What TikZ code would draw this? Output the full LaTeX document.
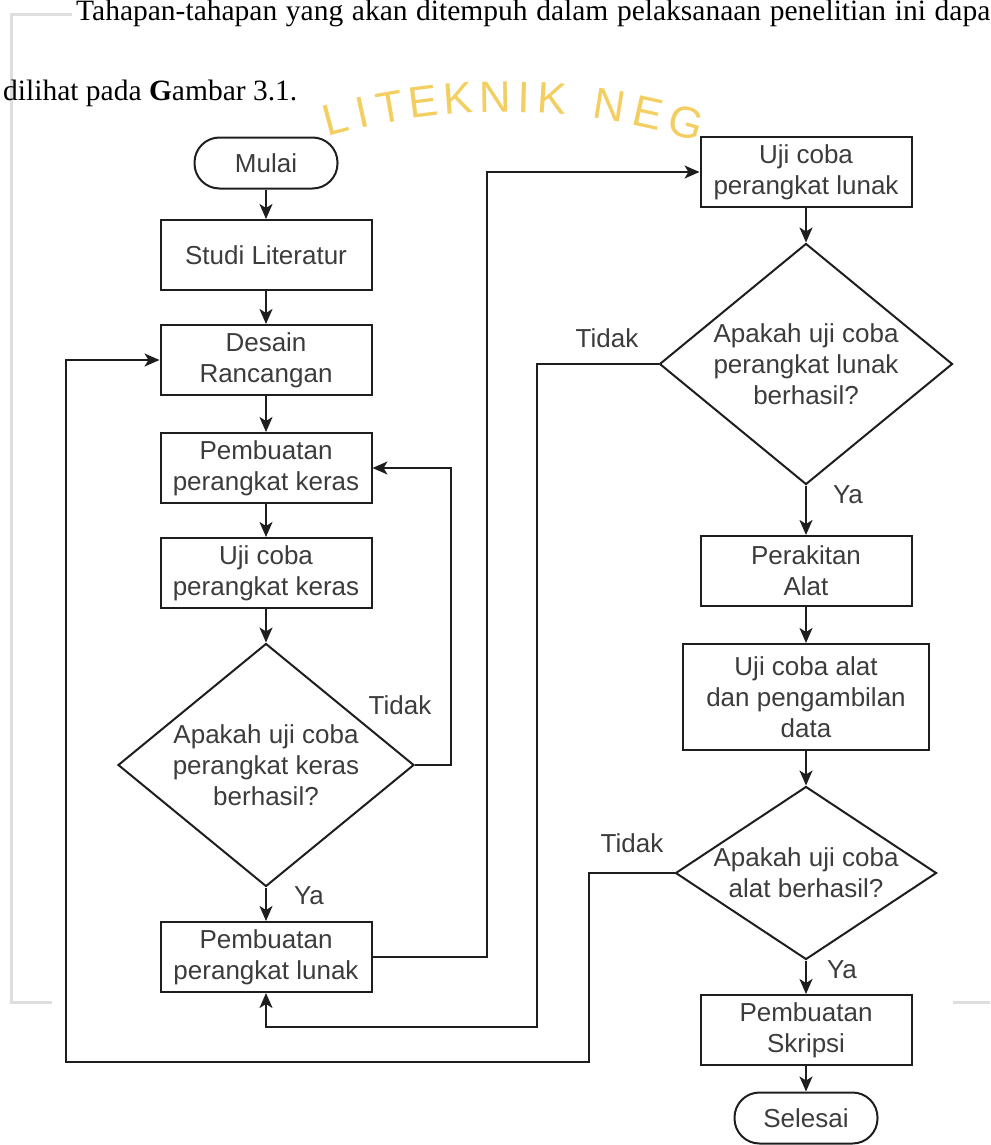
\documentclass[tikz,border=0pt]{standalone}
\usepackage{fontspec}
\setmainfont{Liberation Serif}
\newfontfamily\flowfont{Liberation Sans}
\usetikzlibrary{shapes.geometric, arrows.meta, calc}

\definecolor{linegray}{RGB}{30,30,30}
\definecolor{textgray}{RGB}{60,60,60}
\definecolor{framegray}{RGB}{222,222,222}
\definecolor{wmyellow}{RGB}{243,206,96}
\newcommand{\flowtext}{\flowfont\fontsize{26}{31}\selectfont}

\begin{document}
\begin{tikzpicture}[x=1pt,y=1pt]

        \tikzstyle{terminal} = [draw=linegray, line width=2pt, rectangle, rounded corners=25pt, minimum width=143pt, minimum height=51pt, text=textgray, font=\flowtext];
        \tikzstyle{process} = [draw=linegray, line width=2pt, rectangle, minimum width=211pt, minimum height=70pt, align=center, text=textgray, font=\flowtext];
        \tikzstyle{decision} = [draw=linegray, line width=2pt, diamond, inner sep=0pt];
        \tikzstyle{answer} = [text=textgray, font=\flowtext, align=center];
        \tikzstyle{arrow} = [line width=2pt, draw=linegray, -{Stealth[length=15pt,width=13pt,inset=4pt]}];
        \tikzstyle{frame} = [line width=3pt, draw=framegray];
        \tikzstyle{wmark} = [text=wmyellow, font=\flowfont\fontsize{44}{44}\selectfont, inner sep=0pt];

        \useasboundingbox (0,0) rectangle (990,-1145);

        % Page frame and watermark
        \draw[frame] (72,-15) -- (11,-15) -- (11,-1002) -- (52,-1002);
        \draw[frame] (953,-1002) -- (990,-1002);

        \begin{scope}
            \clip (318,-40) rectangle (745,-137);
            \foreach \ch/\px in {L/335, I/362, T/390, E/423, K/458, N/495, I/524, K/552, N/610, E/648, G/686} {
                \pgfmathsetmacro\ang{asin((505-\px)/663)}
                \node[wmark, rotate=\ang] at ($(505,-760)+(90+\ang:663)$) {\ch};
            }
        \end{scope}

        % Paragraph text
        \node[anchor=base west, inner sep=0pt, font=\fontsize{29.5}{34}\selectfont] (kalimat1) at (76,-21)
            {\makebox[914pt][s]{Tahapan-tahapan yang akan ditempuh dalam pelaksanaan penelitian ini dapa}};
        \node[anchor=base west, inner sep=0pt, font=\fontsize{29.5}{34}\selectfont] (kalimat2) at (3,-101)
            {dilihat pada \textbf{G}ambar 3.1.};

        % Left - Hardware
        \node[terminal] (mulai) at (266,-163) {Mulai};
        \node[process] (studi) at (266,-255) {Studi Literatur};
        \node[process] (desain) at (266,-360) {Desain\\Rancangan};
        \node[process] (keras) at (266,-468) {Pembuatan\\perangkat keras};
        \node[process] (ujikeras) at (266,-573) {Uji coba\\perangkat keras};
        \node[decision, minimum width=296pt, minimum height=243pt,
            label={[answer]center:{Apakah uji coba\\perangkat keras\\berhasil?}}] (cekkeras) at (266,-765) {};
        \node[process] (lunak) at (266,-957) {Pembuatan\\perangkat lunak};

        \node[answer] (tidak1) at (400,-705) {Tidak};
        \node[answer] (ya1) at (309,-896) {Ya};

        \draw [arrow] (mulai) -- (studi);
        \draw [arrow] (studi) -- (desain);
        \draw [arrow] (desain) -- (keras);
        \draw [arrow] (keras) -- (ujikeras);
        \draw [arrow] (ujikeras) -- (cekkeras);
        \draw [arrow] (cekkeras) -- (lunak);
        \draw [arrow] (cekkeras.east) -- ++(36,0) |- (keras.east);
        % Left - Hardware

        % Right - Software and device
        \node[process] (ujilunak) at (806,-172) {Uji coba\\perangkat lunak};
        \node[decision, minimum width=293pt, minimum height=241pt,
            label={[answer]center:{Apakah uji coba\\perangkat lunak\\berhasil?}}] (ceklunak) at (806,-364) {};
        \node[process] (rakit) at (806,-571) {Perakitan\\Alat};
        \node[process, minimum width=246pt, minimum height=106pt] (ujialat) at (806,-697) {Uji coba alat\\dan pengambilan\\data};
        \node[decision, minimum width=261pt, minimum height=173pt,
            label={[answer]center:{Apakah uji coba\\alat berhasil?}}] (cekalat) at (806,-873) {};
        \node[process] (skripsi) at (806,-1030) {Pembuatan\\Skripsi};
        \node[terminal] (selesai) at (806,-1118) {Selesai};

        \node[answer] (tidak2) at (607,-338) {Tidak};
        \node[answer] (ya2) at (848,-495) {Ya};
        \node[answer] (tidak3) at (632,-843) {Tidak};
        \node[answer] (ya3) at (842,-970) {Ya};

        \coordinate (baliklunak) at (537,-1027);
        \coordinate (balikdesain) at (66,-1062);

        \draw [arrow] (lunak.east) -- ++(114,0) |- (ujilunak.west);
        \draw [arrow] (ujilunak) -- (ceklunak);
        \draw [arrow] (ceklunak) -- (rakit);
        \draw [arrow] (rakit) -- (ujialat);
        \draw [arrow] (ujialat) -- (cekalat);
        \draw [arrow] (cekalat) -- (skripsi);
        \draw [arrow] (skripsi) -- (selesai);

        \draw [arrow] (ceklunak.west) -| (baliklunak) -| (lunak.south);
        \draw [arrow] (cekalat.west) -- ++(-86,0) |- (balikdesain) |- (desain.west);
        % Right - Software and device

    \end{tikzpicture}
\end{document}
